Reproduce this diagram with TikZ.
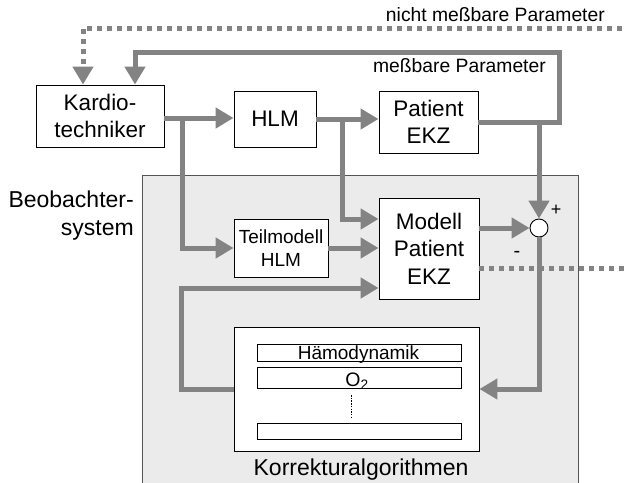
\documentclass[tikz,border=0pt]{standalone}
\usepackage{fontspec}
\setmainfont{Liberation Sans}
\usetikzlibrary{arrows.meta}
\definecolor{lgray}{HTML}{838383}
\definecolor{bgray}{HTML}{EBEBEB}
\definecolor{edgegray}{HTML}{555555}
\begin{document}
\begin{tikzpicture}[x=1pt,y=-1pt,
  box/.style={draw=black,line width=0.9pt,fill=white,align=center,inner sep=0pt,
    font=\fontsize{22.5}{27.5}\selectfont},
  conn/.style={draw=lgray,line width=5pt,-{Triangle[length=18pt,width=20pt]}},
  dotconn/.style={conn,dash pattern=on 5pt off 5pt},
  dotline/.style={draw=lgray,line width=5pt,dash pattern=on 5pt off 5pt},
  bar/.style={draw=black,line width=0.8pt,fill=white,inner sep=0pt,minimum width=204pt},
  lbl/.style={inner sep=0pt}]
\useasboundingbox (0,0) rectangle (626,482);
% observer system background
\fill[bgray] (142,175) rectangle (578,490);
\draw[edgegray,line width=0.8pt] (142,490) -- (142,175) -- (578,175) -- (578,490);

% main nodes
\node[box,minimum width=128pt,minimum height=62pt] (kardio) at (100,116) {Kardio-\\techniker};
\node[box,minimum width=82pt,minimum height=56pt] (hlm) at (275,119) {HLM};
\node[box,minimum width=99pt,minimum height=62pt] (patient) at (428.5,122) {Patient\\EKZ};
\node[box,minimum width=100pt,minimum height=101pt] (modell) at (429,248.5) {Modell\\Patient\\EKZ};
\node[box,minimum width=94pt,minimum height=58pt,font=\fontsize{19}{23}\selectfont] (teil) at (281,248) {Teilmodell\\HLM};
\node[box,minimum width=245pt,minimum height=124pt] (korr) at (356.5,389) {};
\node[draw=black,line width=0.9pt,fill=white,circle,minimum size=18pt,inner sep=0pt] (sum) at (539,228) {};

% bars inside Korrekturalgorithmen
\node[bar,minimum height=17pt] (bar1) at (359,352.5) {};
\node[bar,minimum height=21pt] (bar2) at (359,377.5) {};
\node[bar,minimum height=16pt] (bar3) at (359,431) {};
\node[lbl,anchor=base,font=\fontsize{19}{22}\selectfont] (haemo) at (358.5,359) {Hämodynamik};
\node[lbl,anchor=base,font=\fontsize{19.5}{22}\selectfont] (otwo) at (357,386.5) {O\textsubscript{2}};
\draw[black,line width=1pt,dash pattern=on 1.5pt off 1.2pt] (351,395) -- (351,417);

% junction coordinates
\coordinate (j1) at (182,118);
\coordinate (j2) at (342,119);
\coordinate (c1) at (559,52);
\coordinate (c2) at (632,28);

% connectors
\draw[conn] (kardio.east |- j1) -- (hlm.west |- j1);
\draw[conn] (j1) |- (teil.west);
\draw[conn] (hlm.east |- j2) -- (patient.west |- j2);
\draw[conn] (j2) |- ([yshift=29.5pt]modell.west);
\draw[conn] (teil.east) -- (teil.east -| modell.west);
\draw[conn] (korr.west) -- ++(-52,0) |- ([yshift=-39.5pt]modell.west);
\draw[conn] (patient.east) -| (c1) -| ([xshift=35pt]kardio.north);
\draw[dotconn] (c2) -| ([xshift=-17pt]kardio.north);
\draw[conn] (sum.north |- patient.east) -- (sum.north);
\draw[conn] (modell.east |- sum.west) -- (sum.west);
\draw[conn] (sum.south) |- (korr.east);
\draw[dotline] ([yshift=-19.5pt]modell.east) -- ++(160,0);

% labels
\node[lbl,anchor=east,font=\fontsize{19.3}{22}\selectfont] (nmp) at (605,15) {nicht meßbare Parameter};
\node[lbl,anchor=east,font=\fontsize{19.3}{22}\selectfont] (mp) at (546,66) {meßbare Parameter};
\node[lbl,anchor=east,align=right,font=\fontsize{23}{28}\selectfont] (beob) at (134,216) {Beobachter-\\system};
\node[lbl,font=\fontsize{23}{26}\selectfont] (kalg) at (361,470) {Korrekturalgorithmen};
\node[lbl,font=\fontsize{18}{20}\selectfont] (plus) at (556,210) {+};
\node[lbl,font=\fontsize{20}{22}\selectfont] (minus) at (517,254) {-};
\end{tikzpicture}
\end{document}
